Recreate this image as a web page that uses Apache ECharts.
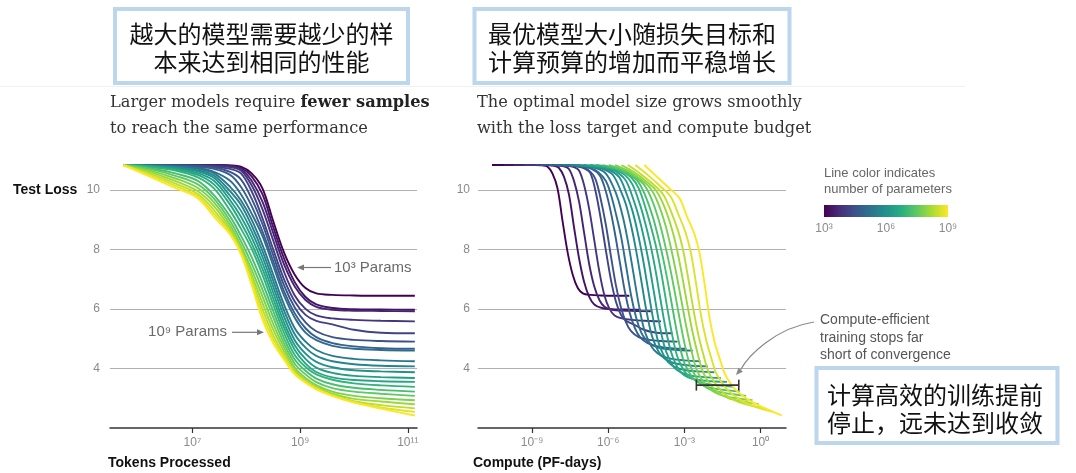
<!DOCTYPE html>
<html><head><meta charset="utf-8">
<script src="https://cdn.jsdelivr.net/npm/echarts@6/dist/echarts.min.js"></script>
<style>html,body{margin:0;padding:0;background:#fff}#c{width:1076px;height:473px}</style>
</head><body><div id="c"></div>
<script>
// ---------------- data ----------------
// x grid: log10(tokens processed)
const tokenExp = [5.72, 6.2, 6.7, 7.1, 7.4, 7.7, 7.9, 8.1, 8.3, 8.5, 8.7, 8.9, 9.1, 9.3, 9.6, 10.0, 10.5, 11.13];
// log10(number of parameters) of each run
const paramExp = [3.0, 3.3, 3.6, 3.9, 4.2, 4.5, 4.8, 5.1, 5.4, 5.7, 6.0, 6.3, 6.6, 6.9, 7.2, 7.5, 7.8, 8.1, 8.4, 8.7, 9.0];
// log10(PF-days) - log10(tokens) of each run (where each curve sits on the compute axis)
const computeOffset = [-16.30, -15.85, -15.45, -15.05, -14.60, -14.40, -14.05, -13.80, -13.50, -13.20, -12.95, -12.70, -12.45, -12.20, -11.95, -11.70, -11.45, -11.20, -10.95, -10.65, -10.30];
// test loss of each run on the token grid
const loss30 = [10.83, 10.83, 10.83, 10.83, 10.83, 10.82, 10.78, 10.55, 10.05, 8.95, 7.9, 7.15, 6.7, 6.52, 6.47, 6.45, 6.44, 6.44];
const loss33 = [10.83, 10.83, 10.83, 10.83, 10.83, 10.81, 10.74, 10.45, 9.85, 8.75, 7.7, 6.9, 6.4, 6.15, 6.03, 5.99, 5.98, 5.97];
const loss36 = [10.83, 10.83, 10.83, 10.83, 10.82, 10.79, 10.7, 10.3, 9.6, 8.55, 7.5, 6.75, 6.3, 6.07, 5.97, 5.94, 5.93, 5.92];
const loss39 = [10.83, 10.83, 10.83, 10.82, 10.81, 10.76, 10.65, 10.15, 9.35, 8.3, 7.25, 6.45, 6.0, 5.78, 5.68, 5.63, 5.6, 5.58];
const loss42 = [10.83, 10.83, 10.82, 10.81, 10.78, 10.7, 10.55, 9.95, 9.05, 8.0, 7.0, 6.25, 5.8, 5.6, 5.48, 5.3, 5.2, 5.18];
const loss45 = [10.83, 10.83, 10.82, 10.8, 10.75, 10.6, 10.35, 9.7, 8.85, 7.8, 6.8, 6.05, 5.55, 5.25, 5.05, 4.96, 4.92, 4.90];
const loss48 = [10.83, 10.83, 10.81, 10.77, 10.7, 10.5, 10.1, 9.45, 8.6, 7.6, 6.6, 5.85, 5.35, 5.05, 4.85, 4.74, 4.68, 4.66];
const loss51 = [10.83, 10.82, 10.79, 10.73, 10.6, 10.3, 9.85, 9.2, 8.45, 7.45, 6.45, 5.7, 5.2, 4.95, 4.76, 4.66, 4.62, 4.60];
const loss54 = [10.83, 10.82, 10.78, 10.7, 10.55, 10.1, 9.65, 9.0, 8.15, 7.15, 6.15, 5.35, 4.9, 4.62, 4.42, 4.32, 4.27, 4.24];
const loss57 = [10.83, 10.81, 10.76, 10.66, 10.48, 9.95, 9.5, 8.8, 7.95, 6.95, 5.95, 5.15, 4.7, 4.42, 4.24, 4.14, 4.09, 4.07];
const loss60 = [10.83, 10.8, 10.74, 10.62, 10.4, 9.8, 9.3, 8.6, 7.75, 6.75, 5.75, 4.95, 4.5, 4.22, 4.04, 3.94, 3.9, 3.87];
const loss63 = [10.83, 10.79, 10.71, 10.56, 10.3, 9.65, 9.1, 8.4, 7.55, 6.55, 5.55, 4.78, 4.32, 4.03, 3.85, 3.75, 3.71, 3.68];
const loss66 = [10.83, 10.78, 10.68, 10.5, 10.18, 9.5, 8.9, 8.2, 7.35, 6.35, 5.38, 4.62, 4.16, 3.88, 3.7, 3.61, 3.57, 3.55];
const loss69 = [10.83, 10.76, 10.64, 10.42, 10.05, 9.3, 8.7, 8.02, 7.15, 6.15, 5.2, 4.45, 4.05, 3.8, 3.62, 3.5, 3.43, 3.38];
const loss72 = [10.83, 10.73, 10.54, 10.3, 9.82, 9.1, 8.46, 7.74, 6.88, 5.93, 5.02, 4.3, 3.92, 3.66, 3.47, 3.35, 3.28, 3.22];
const loss75 = [10.83, 10.7, 10.46, 10.18, 9.7, 8.95, 8.28, 7.52, 6.65, 5.72, 4.85, 4.16, 3.8, 3.54, 3.34, 3.22, 3.15, 3.08];
const loss78 = [10.83, 10.65, 10.37, 10.06, 9.58, 8.82, 8.12, 7.32, 6.42, 5.5, 4.7, 4.03, 3.68, 3.44, 3.22, 3.08, 3.0, 2.93];
const loss81 = [10.83, 10.6, 10.28, 9.95, 9.45, 8.7, 8.02, 7.15, 6.2, 5.3, 4.57, 3.95, 3.6, 3.38, 3.15, 2.98, 2.89, 2.80];
const loss84 = [10.83, 10.55, 10.2, 9.86, 9.32, 8.62, 7.96, 7.02, 6.0, 5.12, 4.45, 3.88, 3.58, 3.35, 3.1, 2.9, 2.77, 2.66];
const loss87 = [10.83, 10.5, 10.12, 9.78, 9.2, 8.55, 7.9, 6.9, 5.8, 4.98, 4.37, 3.84, 3.55, 3.32, 3.09, 2.87, 2.69, 2.54];
const loss90 = [10.83, 10.45, 10.05, 9.72, 9.1, 8.5, 7.85, 6.8, 5.65, 4.85, 4.3, 3.8, 3.52, 3.3, 3.08, 2.85, 2.65, 2.42];
const lossRuns = [loss30, loss33, loss36, loss39, loss42, loss45, loss48, loss51, loss54, loss57, loss60,
                  loss63, loss66, loss69, loss72, loss75, loss78, loss81, loss84, loss87, loss90];
// axis ticks
const tokenTicks = [7, 9, 11];
const computeTicks = [-9, -6, -3, 0];
const lossTicks = [4, 6, 8, 10];
const colorbarTicks = [3, 6, 9];
// compute-efficient bracket (log10 PF-days, loss)
const bracketCompute = [-2.53, -0.86];
const bracketLoss = 3.44;

// ---------------- styling helpers ----------------
const viridis = ['#440154','#472d7b','#3b528b','#2c728e','#21918c','#28ae80','#5ec962','#addc30','#fde725'];
function hexToRgb(h){return [parseInt(h.slice(1,3),16),parseInt(h.slice(3,5),16),parseInt(h.slice(5,7),16)];}
function viridisAt(t){
  t = Math.max(0, Math.min(1, t));
  const p = t * (viridis.length - 1), i = Math.min(Math.floor(p), viridis.length - 2), f = p - i;
  const a = hexToRgb(viridis[i]), b = hexToRgb(viridis[i+1]);
  return 'rgb(' + a.map((v,k)=>Math.round(v + (b[k]-v)*f)).join(',') + ')';
}
const sup = {'0':'⁰','1':'¹','2':'²','3':'³','4':'⁴','5':'⁵','6':'⁶','7':'⁷','8':'⁸','9':'⁹','-':'⁻'};
function pow10(e){ return '10' + String(e).split('').map(c=>sup[c]).join(''); }

const SANS = '"Liberation Sans", "Helvetica Neue", Arial, sans-serif';
const CJK = '"Noto Sans CJK SC", sans-serif';
const SERIF = '"DejaVu Serif", serif';
const GRID_C = '#b0b0b0', LABEL_C = '#8a8a8a';

function xAxisCfg(idx, min, max, ticks){
  return {
    type: 'value', gridIndex: idx, min: min, max: max,
    splitLine: {show: false},
    axisLine: {show: true, onZero: false, lineStyle: {color: '#333', width: 1.5}},
    axisTick: {show: true, customValues: ticks, length: 5, lineStyle: {color: '#333', width: 1.2}},
    axisLabel: {customValues: ticks, formatter: v => pow10(v), color: LABEL_C, fontSize: 12, fontFamily: SANS, margin: 9}
  };
}
function yAxisCfg(idx, margin){
  return {
    type: 'value', gridIndex: idx, min: 2, max: 11, interval: 2,
    axisLine: {show: false}, axisTick: {show: false},
    axisLabel: {color: LABEL_C, fontSize: 12, fontFamily: SANS, margin: margin, showMinLabel: false, showMaxLabel: false,
      formatter: v => lossTicks.indexOf(v) >= 0 ? String(v) : ''},
    splitLine: {show: true, showMinLine: false, showMaxLine: false, lineStyle: {color: GRID_C, width: 1}}
  };
}

const series = [];
lossRuns.forEach((run, i) => {
  const color = viridisAt((paramExp[i] - 3) / 6);
  const base = {type: 'line', showSymbol: false, symbol: 'none', smooth: 0.35, silent: true,
    lineStyle: {color: color, width: 1.9}, itemStyle: {color: color}, z: 2 + i};
  series.push(Object.assign({}, base, {name: 'tok' + paramExp[i], xAxisIndex: 0, yAxisIndex: 0,
    data: tokenExp.map((x, j) => [x, run[j]])}));
  series.push(Object.assign({}, base, {name: 'cmp' + paramExp[i], xAxisIndex: 1, yAxisIndex: 1,
    data: tokenExp.map((x, j) => [x + computeOffset[i], run[j]])}));
});
series.push({type: 'line', xAxisIndex: 1, yAxisIndex: 1, silent: true, z: 50,
  data: bracketCompute.map(c => [c, bracketLoss]), symbol: 'rect', symbolSize: [1.6, 11], showSymbol: true,
  lineStyle: {color: '#333', width: 1.6}, itemStyle: {color: '#333'}});

// ---------------- graphic annotations ----------------
const BOX = '#bcd6ee';
function box(x, y, w, h){ return {type: 'rect', shape: {x: x, y: y, width: w, height: h}, style: {fill: '#fff', stroke: BOX, lineWidth: 4}, z: 10}; }
function txt(t, x, y, font, fill, align, extra){
  return Object.assign({type: 'text', z: 11, style: Object.assign({text: t, x: x, y: y, font: font, fill: fill,
    textAlign: align || 'left', textVerticalAlign: 'middle', align: align || 'left', verticalAlign: 'middle'}, extra || {})});
}
const cbStops = viridis.map((c, k) => ({offset: k / (viridis.length - 1), color: c}));
const cbX = 824, cbW = 124;
const SUB = '16.2px ' + SERIF;

const graphic = [
  {type: 'line', shape: {x1: 0, y1: 86.5, x2: 965, y2: 86.5}, style: {stroke: '#f0f0f0', lineWidth: 1}, z: 1},
  box(115, 9, 293, 74), box(474.5, 9, 315, 74), box(816.5, 368, 241, 75),
  txt('越大的模型需要越少的样', 261.5, 33.5, '24px ' + CJK, '#111', 'center'),
  txt('本来达到相同的性能', 261.5, 62, '24px ' + CJK, '#111', 'center'),
  txt('最优模型大小随损失目标和', 632, 33.5, '24px ' + CJK, '#111', 'center'),
  txt('计算预算的增加而平稳增长', 632, 62, '24px ' + CJK, '#111', 'center'),
  txt('计算高效的训练提前', 935, 395, '24px ' + CJK, '#111', 'center'),
  txt('停止，远未达到收敛', 935, 423, '24px ' + CJK, '#111', 'center'),
  txt('{n|Larger models require }{b|fewer samples}', 110, 103, SUB, '#333', 'left',
      {rich: {n: {font: SUB, fill: '#333'}, b: {font: 'bold ' + SUB, fill: '#222'}}}),
  txt('to reach the same performance', 110, 129, SUB, '#333'),
  txt('The optimal model size grows smoothly', 477, 103, SUB, '#333'),
  txt('with the loss target and compute budget', 477, 129, SUB, '#333'),
  txt('Test Loss', 13, 190, 'bold 14px ' + SANS, '#111'),
  txt('Tokens Processed', 108, 463, 'bold 14px ' + SANS, '#111'),
  txt('Compute (PF-days)', 473, 463, 'bold 14px ' + SANS, '#111'),
  txt('Line color indicates', cbX, 173, '13px ' + SANS, '#666'),
  txt('number of parameters', cbX, 189, '13px ' + SANS, '#666'),
  {type: 'rect', z: 11, shape: {x: cbX, y: 205, width: cbW, height: 12},
    style: {fill: new echarts.graphic.LinearGradient(0, 0, 1, 0, cbStops)}},
  ...colorbarTicks.map(e => txt(pow10(e), cbX + (e - 3) / 6 * cbW, 229, '12px ' + SANS, LABEL_C, 'center')),
  // 10^3 Params annotation
  txt(pow10(3) + ' Params', 334, 267.5, '15px ' + SANS, '#6a6a6a'),
  {type: 'line', z: 11, shape: {x1: 331, y1: 267.5, x2: 302, y2: 267.5}, style: {stroke: '#777', lineWidth: 1.2}},
  {type: 'polygon', z: 11, shape: {points: [[297, 267.5], [304, 264.5], [304, 270.5]]}, style: {fill: '#777'}},
  // 10^9 Params annotation
  txt(pow10(9) + ' Params', 227, 332.3, '15px ' + SANS, '#6a6a6a', 'right'),
  {type: 'line', z: 11, shape: {x1: 232, y1: 332.3, x2: 258, y2: 332.3}, style: {stroke: '#777', lineWidth: 1.2}},
  {type: 'polygon', z: 11, shape: {points: [[264, 332.3], [257, 329.3], [257, 335.3]]}, style: {fill: '#777'}},
  // compute-efficient annotation
  txt('Compute-efficient', 820, 320, '14px ' + SANS, '#555'),
  txt('training stops far', 820, 337.7, '14px ' + SANS, '#555'),
  txt('short of convergence', 820, 355, '14px ' + SANS, '#555'),
  {type: 'bezierCurve', z: 11, shape: {x1: 814, y1: 322, cpx1: 775, cpy1: 328, cpx2: 748, cpy2: 356, x2: 740.6, y2: 369.8},
    style: {stroke: '#888', lineWidth: 1.2, fill: null}},
  {type: 'polygon', z: 11, shape: {points: [[736, 375], [742.9, 371.8], [738.4, 367.8]]}, style: {fill: '#888'}}
];

const chart = echarts.init(document.getElementById('c'), null, {renderer: 'canvas'});
chart.setOption({
  animation: false,
  backgroundColor: '#fff',
  grid: [
    {left: 110, right: 659, top: 160, bottom: 45},
    {left: 478, right: 290, top: 160, bottom: 45}
  ],
  xAxis: [xAxisCfg(0, 5.47, 11.17, tokenTicks), xAxisCfg(1, -11.13, 1.0, computeTicks)],
  yAxis: [yAxisCfg(0, 10), yAxisCfg(1, 8)],
  series: series,
  graphic: graphic
});
</script></body></html>
